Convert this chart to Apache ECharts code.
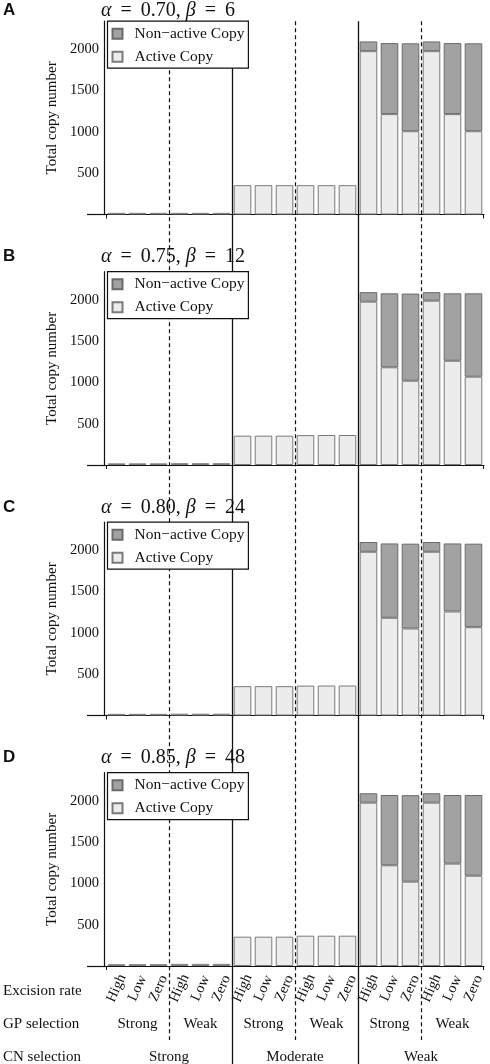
<!DOCTYPE html>
<html>
<head>
<meta charset="utf-8">
<script src="https://cdn.jsdelivr.net/npm/echarts@6/dist/echarts.min.js"></script>
<style>
html, body { margin: 0; padding: 0; background: #fff; }
#chart { width: 490px; height: 1064px; }
</style>
</head>
<body>
<div id="chart"></div>
<script>
// bar order: CN strong | moderate | weak, each GP strong | weak, each excision High/Low/Zero
var cnLevels = ['Strong', 'Moderate', 'Weak'];
var gpLevels = ['Strong', 'Weak'];
var excisionRates = ['High', 'Low', 'Zero'];
var panelLetters = ['A', 'B', 'C', 'D'];
var alphas = ['0.70', '0.75', '0.80', '0.85'];
var betas = ['6', '12', '24', '48'];
var yTicks = [500, 1000, 1500, 2000];
var yMinorTicks = [100, 200, 300, 400, 600, 700, 800, 900, 1100, 1200, 1300, 1400, 1600, 1700, 1800, 1900, 2100, 2200, 2300];

var activeA = [20, 20, 20, 20, 20, 20, 355, 355, 355, 355, 355, 355, 1977, 1215, 1008, 1977, 1215, 1008];
var nonActiveA = [0, 0, 0, 0, 0, 0, 0, 0, 0, 0, 0, 0, 118, 860, 1064, 118, 860, 1064];
var activeB = [20, 20, 20, 22, 22, 22, 355, 355, 355, 362, 363, 363, 1977, 1183, 1020, 1989, 1262, 1069];
var nonActiveB = [0, 0, 0, 0, 0, 0, 0, 0, 0, 0, 0, 0, 115, 895, 1055, 103, 816, 1009];
var activeC = [20, 20, 20, 22, 22, 22, 355, 355, 355, 362, 363, 363, 1982, 1183, 1053, 1982, 1259, 1069];
var nonActiveC = [0, 0, 0, 0, 0, 0, 0, 0, 0, 0, 0, 0, 118, 900, 1027, 118, 824, 1011];
var activeD = [22, 22, 22, 26, 26, 26, 355, 355, 355, 367, 367, 367, 1977, 1219, 1021, 1977, 1239, 1093];
var nonActiveD = [0, 0, 0, 0, 0, 0, 0, 0, 0, 0, 0, 0, 114, 851, 1047, 114, 831, 977];

// separators between groups, in bar slots
var solidSeps = [6, 12];
var dashedSeps = [3, 9, 15];

var activeSets = [activeA, activeB, activeC, activeD];
var nonActiveSets = [nonActiveA, nonActiveB, nonActiveC, nonActiveD];
var nonActiveName = 'Non\u2212active Copy';
var activeName = 'Active Copy';

var serif = '"Liberation Serif", "Times New Roman", serif';
var ink = '#111';
var zeroY = [214.5, 465, 715.5, 966];
var titleY = [9, 255, 506, 756];
var plotH = 193.3;
var yMax = 2340;
var stubMin = -0.9;

var barSlots = [], excisionLabels = [], gpLabels = [];
cnLevels.forEach(function (c) {
    gpLevels.forEach(function (g) {
        gpLabels.push(g);
        excisionRates.forEach(function (r) {
            excisionLabels.push(r);
            barSlots.push(c + '/' + g + '/' + r);
        });
    });
});

function blankZero(vals) {
    return vals.map(function (v) { return v === 0 ? '-' : v; });
}

var grid = [], xAxis = [], yAxis = [], series = [], legend = [], title = [];

for (var p = 0; p < 4; p++) {
    var panelTop = zeroY[p] - plotH;
    grid.push({ left: 106, right: 6, top: panelTop, height: plotH });
    xAxis.push({
        type: 'category', gridIndex: p, data: barSlots,
        axisLine: { onZero: false, lineStyle: { color: ink, width: 1.2 } },
        axisTick: { show: false }, axisLabel: { show: false }, splitLine: { show: false }
    });
    series.push({
        name: activeName, type: 'bar', xAxisIndex: p, yAxisIndex: p, stack: 's' + p,
        barWidth: 17.6,
        itemStyle: { color: '#ececec', borderColor: '#7a7a7a', borderWidth: 1 },
        data: activeSets[p]
    });
    series.push({
        name: nonActiveName, type: 'bar', xAxisIndex: p, yAxisIndex: p, stack: 's' + p,
        barWidth: 17.6,
        itemStyle: { color: '#a2a2a2', borderColor: '#6a6a6a', borderWidth: 1 },
        data: blankZero(nonActiveSets[p])
    });
    legend.push({
        left: 107.5, top: panelTop, orient: 'vertical', data: [nonActiveName, activeName],
        padding: [4, 4, 3, 4], itemWidth: 10, itemHeight: 10, itemGap: 6, icon: 'rect',
        backgroundColor: '#fff', borderColor: ink, borderWidth: 1.2, selectedMode: false, z: 10,
        textStyle: { fontFamily: serif, fontSize: 15.5, color: ink, lineHeight: 17, padding: [0, 0, 0, 7] }
    });
    title.push({
        text: panelLetters[p], left: 3, top: titleY[p] - 7, padding: 0,
        textStyle: { fontFamily: '"Liberation Sans", Arial, sans-serif', fontWeight: 'bold', fontSize: 17, color: ink }
    });
    title.push({
        text: '{g|α}{e|=}' + alphas[p] + ', {g|β}{e|=}' + betas[p],
        left: 101, top: titleY[p] - 9, padding: 0,
        textStyle: {
            fontFamily: serif, fontSize: 20, fontWeight: 'normal', color: ink, lineHeight: 22,
            rich: {
                g: { fontFamily: serif, fontSize: 20, fontStyle: 'italic', color: ink, lineHeight: 22 },
                e: { fontFamily: serif, fontSize: 20, color: ink, lineHeight: 22, padding: [0, 9, 0, 9] }
            }
        }
    });
}

// y axes: labelled major ticks, then a second axis for the minor ticks
for (var p = 0; p < 4; p++) {
    yAxis.push({
        type: 'value', gridIndex: p, position: 'left', min: 0, max: yMax, offset: 2,
        name: 'Total copy number', nameLocation: 'middle', nameGap: 39,
        nameTextStyle: { fontFamily: serif, fontSize: 15, color: ink },
        axisLine: { show: true, onZero: false, lineStyle: { color: ink, width: 1.2 } },
        axisTick: { inside: true, length: 4, customValues: yTicks, lineStyle: { color: ink } },
        axisLabel: {
            customValues: yTicks, fontFamily: serif, fontSize: 14.5, color: ink, margin: 5,
            formatter: function (v) { return String(v); }
        },
        splitLine: { show: false }
    });
}
for (var p = 0; p < 4; p++) {
    yAxis.push({
        type: 'value', gridIndex: p, position: 'left', min: 0, max: yMax, offset: 2,
        axisLine: { show: false, onZero: false },
        axisTick: { inside: true, length: 2, customValues: yMinorTicks, lineStyle: { color: ink } },
        axisLabel: { show: false }, splitLine: { show: false }
    });
}

// overlay grid: separators through all panels, x axis stubs left of the y axis
var overlayTop = zeroY[0] - plotH;
var overlayH = 1064 - overlayTop;
grid.push({ left: 87, right: 6, top: overlayTop, height: overlayH });
xAxis.push({ type: 'value', gridIndex: 4, min: stubMin, max: barSlots.length, show: false });
yAxis.push({ type: 'value', gridIndex: 4, min: 0, max: overlayH, inverse: true, show: false });

var sepLines = [];
solidSeps.forEach(function (x) {
    sepLines.push([{ coord: [x, 0], lineStyle: { type: 'solid', width: 1.3 } }, { coord: [x, overlayH] }]);
});
dashedSeps.forEach(function (x) {
    sepLines.push([{ coord: [x, 0], lineStyle: { type: [4, 3], width: 1.2 } }, { coord: [x, 1040 - overlayTop] }]);
});
zeroY.forEach(function (z) {
    var yv = z - overlayTop;
    sepLines.push([{ coord: [stubMin, yv], lineStyle: { type: 'solid', width: 1.2 } }, { coord: [0, yv] }]);
    sepLines.push([{ coord: [0.03, yv], lineStyle: { type: 'solid', width: 1 } }, { coord: [0.03, yv + 4] }]);
    sepLines.push([{ coord: [barSlots.length - 0.03, yv], lineStyle: { type: 'solid', width: 1 } }, { coord: [barSlots.length - 0.03, yv + 4] }]);
});
series.push({
    type: 'line', xAxisIndex: 4, yAxisIndex: 8, data: [[0, 0]], showSymbol: false, z: 3, silent: true,
    lineStyle: { opacity: 0 },
    markLine: { silent: true, symbol: ['none', 'none'], label: { show: false }, lineStyle: { color: ink }, data: sepLines }
});

// label rows under the last panel
grid.push({ left: 106, right: 6, top: 966, height: 1 });
function labelAxis(labels, margin, rotate, size) {
    return {
        type: 'category', gridIndex: 5, position: 'bottom', data: labels,
        axisLine: { show: false }, axisTick: { show: false }, splitLine: { show: false },
        axisLabel: {
            interval: 0, rotate: rotate, margin: margin, align: 'center', verticalAlign: 'middle',
            fontFamily: serif, fontSize: size, color: ink
        }
    };
}
xAxis.push(labelAxis(excisionLabels, 22, 66, 14.5));
xAxis.push(labelAxis(gpLabels, 58, 0, 15));
xAxis.push(labelAxis(cnLevels, 91, 0, 15));
yAxis.push({ type: 'value', gridIndex: 5, min: 0, max: 1, show: false });

[['Excision rate', 991], ['GP selection', 1024], ['CN selection', 1057]].forEach(function (r) {
    title.push({
        text: r[0], left: 3, top: r[1] - 7, padding: 0,
        textStyle: { fontFamily: serif, fontSize: 15, fontWeight: 'normal', color: ink }
    });
});

var chart = echarts.init(document.getElementById('chart'));
chart.setOption({
    animation: false,
    backgroundColor: '#fff',
    title: title,
    legend: legend,
    grid: grid,
    xAxis: xAxis,
    yAxis: yAxis,
    series: series
});
</script>
</body>
</html>
